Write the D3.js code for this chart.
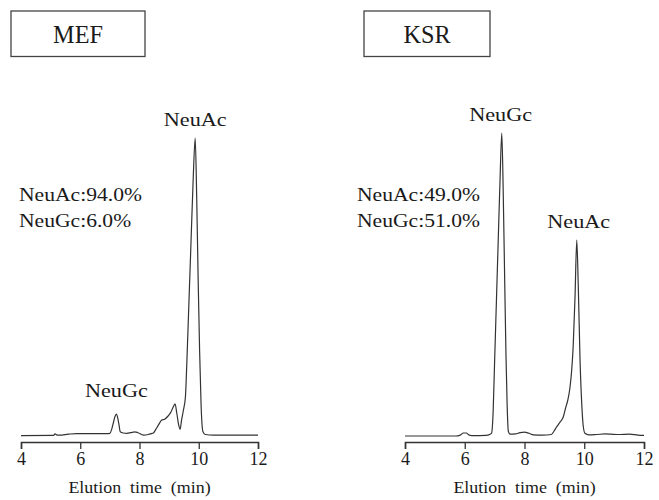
<!DOCTYPE html>
<html lang="en">
  <head>
    <meta charset="utf-8">
    <title>Sialic acid HPLC</title>
    <script src="https://d3js.org/d3.v7.min.js"></script>
    <style>
      body { margin: 0; background: #fff; }
      text { font-family: "Liberation Serif", "Times New Roman", serif; fill: #1a1a1a; }
    </style>
  </head>

  <body>

  <script>

// data (time in min, signal in arbitrary units)

  var tickValues = [4, 6, 8, 10, 12];
  var axisTitle = "Elution  time  (min)";

  var mefTime = [4.0, 5.1, 5.15, 5.22, 5.3, 5.6, 5.88, 6.2, 6.6, 6.9, 7.0, 7.06, 7.12, 7.17, 7.22,
    7.27, 7.31, 7.35, 7.45, 7.57, 7.7, 7.84, 7.95, 8.13, 8.3, 8.4, 8.47, 8.55, 8.64, 8.75,
    8.85, 8.95, 9.05, 9.13, 9.2, 9.26, 9.32, 9.37, 9.42, 9.48, 9.55, 9.6, 9.67, 9.74, 9.81,
    9.88, 9.93, 9.98, 10.03, 10.08, 10.14, 10.22, 10.5, 11.0, 11.5, 12.0];
  var mefSignal = [0.1, 0.2, 0.7, 0.3, 0.3, 0.6, 0.8, 0.8, 0.8, 0.8, 0.9, 2.2, 4.5, 6.4, 7.3,
    5.8, 3.6, 1.4, 1.0, 0.9, 1.1, 1.4, 1.1, 0.3, 0.5, 0.8, 1.0, 2.2, 3.7, 5.3,
    5.6, 6.5, 7.8, 9.5, 10.7, 7.5, 3.8, 2.2, 5.3, 8.5, 13, 25, 45, 65, 85,
    99.3, 80, 52, 28, 10, 1.5, 0.5, 0.3, 0.3, 0.3, 0.3];

  var ksrTime = [4.0, 5.7, 5.85, 5.95, 6.05, 6.15, 6.3, 6.7, 6.85, 6.9, 6.95, 7.0, 7.06, 7.12,
    7.18, 7.24, 7.29, 7.34, 7.38, 7.42, 7.46, 7.52, 7.7, 7.85, 8.0, 8.15, 8.3, 8.6, 8.9,
    8.98, 9.08, 9.18, 9.3, 9.38, 9.45, 9.52, 9.58, 9.63, 9.69, 9.75, 9.8, 9.86, 9.92, 9.97,
    10.03, 10.15, 10.4, 10.7, 10.9, 11.2, 11.5, 11.8, 12.0];
  var ksrSignal = [0, 0, 0.3, 1.0, 1.0, 0.3, 0.1, 0.2, 0.6, 1.0, 8, 25, 45, 65,
    85, 101, 80, 50, 27, 10, 1.5, 0.6, 0.7, 1.1, 1.3, 0.9, 0.4, 0.3, 0.5,
    1.5, 3.1, 4.5, 6.4, 9.5, 12, 16, 22, 30, 46, 65.3, 50, 25, 10, 3,
    0.8, 0.4, 0.5, 0.7, 0.6, 0.5, 0.6, 0.3, 0.2];

  var panels = [
    { name: "MEF", time: mefTime, signal: mefSignal,
      ratio: ["NeuAc:94.0%", "NeuGc:6.0%"],
      peaks: [["NeuAc", 9.88, 99.3], ["NeuGc", 7.22, 7.3]] },
    { name: "KSR", time: ksrTime, signal: ksrSignal,
      ratio: ["NeuAc:49.0%", "NeuGc:51.0%"],
      peaks: [["NeuGc", 7.2, 101], ["NeuAc", 9.3, 65.3]] }
  ];

// layout

  var w = 659;
  var h = 500;

  var svg = d3.select("body")
    .append("svg")
      .attr("width", w)
      .attr("height", h);

  var layout = [
    { x0: 21, x1: 258, box: [11, 145], ratioX: 19 },
    { x0: 405, x1: 644, box: [364, 490], ratioX: 357 }
  ];

  var yScale = d3.scaleLinear()
    .domain([0, 100])
    .range([436, 136]);

  // stretched serif text, like the scanned figure
  function label(g, x, y, txt, size, anchor, sx) {
    return g.append("text")
      .attr("transform", "translate(" + x + "," + y + ") scale(" + sx + ",1)")
      .attr("text-anchor", anchor)
      .attr("font-family", "'Liberation Serif', serif")
      .style("font-size", size + "px")
      .style("white-space", "pre")
      .text(txt);
  }

  panels.forEach(function (p, i) {
    var L = layout[i];
    var g = svg.append("g");

    var xScale = d3.scaleLinear()
      .domain([4, 12])
      .range([L.x0, L.x1]);

    // title box
    g.append("rect")
      .attr("x", L.box[0])
      .attr("y", 11)
      .attr("width", L.box[1] - L.box[0])
      .attr("height", 45.5)
      .attr("fill", "none")
      .attr("stroke", "#444")
      .attr("stroke-width", 1.3);
    label(g, (L.box[0] + L.box[1]) / 2, 42.5, p.name, 25, "middle", 0.97);

    // trace
    var pts = p.time.map((t, k) => [t, p.signal[k]]);
    var line = d3.line()
      .x(d => xScale(d[0]))
      .y(d => yScale(d[1]))
      .curve(d3.curveMonotoneX);

    g.append("path")
      .datum(pts)
      .attr("d", line)
      .attr("fill", "none")
      .attr("stroke", "#333")
      .attr("stroke-width", 1.2)
      .attr("stroke-linejoin", "round");

    // axis
    var axis = g.append("g")
      .attr("transform", "translate(0,442)")
      .call(d3.axisBottom(xScale)
        .tickValues(tickValues)
        .tickSize(7)
        .tickPadding(3)
        .tickSizeOuter(7));
    axis.attr("font-family", "'Liberation Serif', serif");
    axis.select(".domain").attr("stroke", "#333").attr("stroke-width", 1.5);
    axis.selectAll(".tick line").attr("stroke", "#333").attr("stroke-width", 1.3);
    axis.selectAll(".tick text")
      .style("font-size", "18px")
      .attr("fill", "#1a1a1a");

    label(g, xScale(8), 493, axisTitle, 16, "middle", 1.12);

    // composition text
    label(g, L.ratioX, 201, p.ratio[0], 18, "start", 1.2);
    label(g, L.ratioX, 227, p.ratio[1], 18, "start", 1.2);

    // peak names
    p.peaks.forEach(function (pk) {
      var nx = xScale(pk[1]);
      var ny = yScale(pk[2]) - (i === 0 && pk[0] === "NeuGc" ? 17 : 12);
      if (i === 1 && pk[0] === "NeuAc") nx = xScale(9.75) + 2;
      label(g, nx, ny, pk[0], 19, "middle", 1.17);
    });
  });

  </script>

  </body>

</html>
